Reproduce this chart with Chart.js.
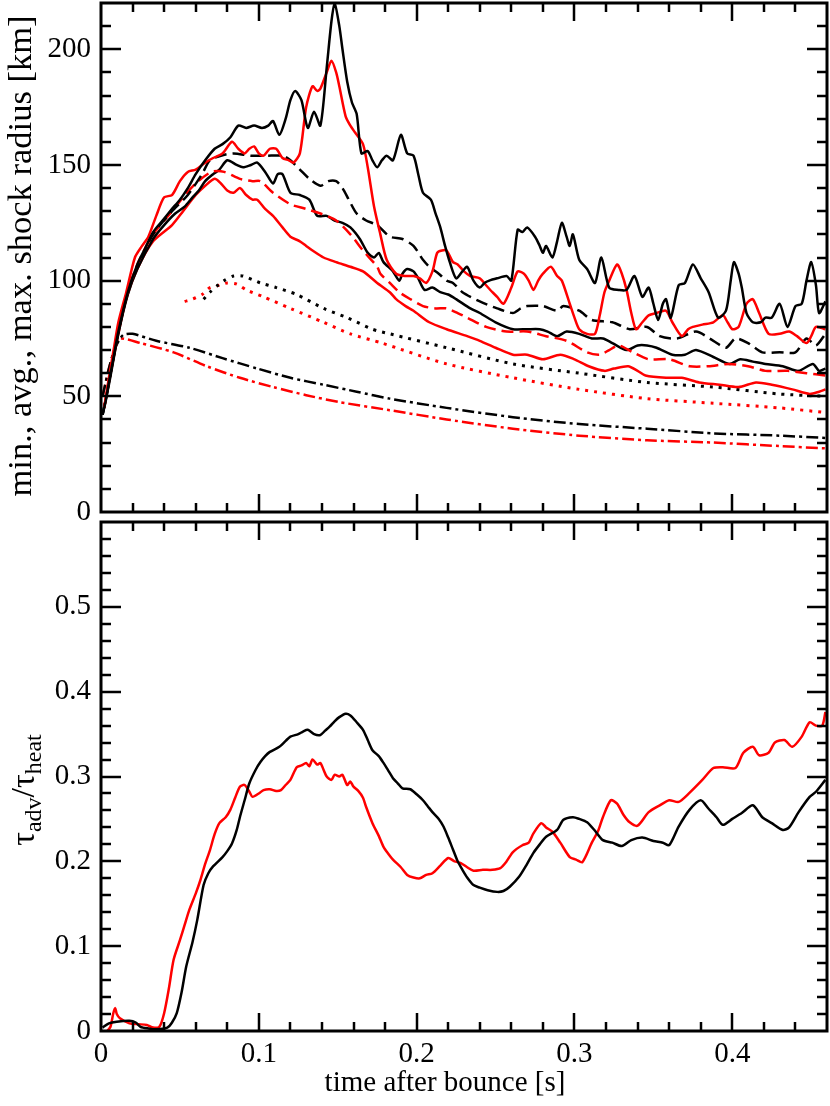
<!DOCTYPE html>
<html>
<head>
<meta charset="utf-8">
<script src="https://cdn.jsdelivr.net/npm/chart.js@4.4.1/dist/chart.umd.min.js"></script>
<style>
  html, body { margin: 0; padding: 0; background: #fff; }
  #wrap { position: relative; width: 830px; height: 1106px; }
  canvas { position: absolute; left: 0; top: 0; }
</style>
</head>
<body>
<div id="wrap">
  <canvas id="shock" width="830" height="560"></canvas>
  <canvas id="ratio" width="830" height="1106"></canvas>
</div>
<script>
// ---- axis ticks / labels ----
const timeTicks = [0, 0.1, 0.2, 0.3, 0.4];
const timeTickLabels = ['0', '0.1', '0.2', '0.3', '0.4'];
const radiusTicks = [0, 50, 100, 150, 200];
const radiusTickLabels = ['0', '50', '100', '150', '200'];
const ratioTicks = [0, 0.1, 0.2, 0.3, 0.4, 0.5];
const ratioTickLabels = ['0', '0.1', '0.2', '0.3', '0.4', '0.5'];

// ---- shock radii [t (s), r (km)] ----
const maxBlack = [[0.001,42],[0.003,48],[0.005,56],[0.008,67],[0.011,78],[0.017,95],[0.023,107],[0.028,114],[0.033,121],[0.039,126],[0.045,131],[0.050,135],[0.055,140],[0.060,146],[0.066,152],[0.072,157],[0.077,159],[0.082,162],[0.087,167],[0.092,166],[0.097,167],[0.102,166],[0.106,167],[0.109,169],[0.113,163],[0.117,170],[0.120,178],[0.123,182],[0.127,178],[0.131,166],[0.135,173],[0.139,167],[0.143,192],[0.146,212],[0.148,220],[0.151,210],[0.153,200],[0.156,186],[0.159,177],[0.162,172],[0.165,155],[0.169,156],[0.172,152],[0.175,149],[0.178,152],[0.181,154],[0.185,152],[0.190,163],[0.194,155],[0.198,154],[0.201,146],[0.204,138],[0.209,135],[0.212,129],[0.215,123],[0.218,115],[0.221,108],[0.225,101],[0.229,104],[0.232,106],[0.236,100],[0.240,97],[0.243,99],[0.246,100],[0.251,101],[0.257,102],[0.260,100],[0.264,122],[0.267,121],[0.270,123],[0.275,119],[0.278,115],[0.280,112],[0.282,115],[0.286,110],[0.289,117],[0.292,125],[0.295,119],[0.297,115],[0.299,120],[0.303,109],[0.308,105],[0.313,99],[0.317,110],[0.322,97],[0.328,96],[0.333,96],[0.338,102],[0.343,93],[0.347,97],[0.350,90],[0.353,83],[0.356,90],[0.358,92],[0.361,84],[0.366,98],[0.370,99],[0.375,107],[0.380,101],[0.385,95],[0.391,84],[0.396,87],[0.399,100],[0.401,108],[0.404,103],[0.406,97],[0.409,86],[0.413,82],[0.418,82],[0.421,84],[0.425,84],[0.430,90],[0.435,80],[0.440,89],[0.444,90],[0.447,100],[0.450,108],[0.453,98],[0.455,86],[0.459,91]];
const maxRed = [[0.002,45],[0.005,58],[0.008,70],[0.011,82],[0.016,95],[0.0215,110],[0.026,115],[0.030,119],[0.035,128],[0.040,136],[0.045,137],[0.050,143],[0.055,147],[0.060,148],[0.066,151],[0.071,153],[0.077,155],[0.083,160],[0.087,157],[0.091,155],[0.094,157],[0.097,158],[0.100,155],[0.103,154],[0.107,157],[0.111,157],[0.115,153],[0.119,152],[0.122,151],[0.126,155],[0.130,175],[0.134,184],[0.137,182],[0.139,183],[0.143,190],[0.146,195],[0.149,190],[0.151,184],[0.155,171],[0.158,167],[0.161,164],[0.166,159],[0.169,149],[0.173,132],[0.177,120],[0.181,109],[0.187,103],[0.193,102],[0.198,102],[0.202,101],[0.206,99],[0.210,104],[0.213,112],[0.216,113],[0.219,113],[0.223,108],[0.226,107],[0.230,104],[0.234,102],[0.240,101],[0.244,98],[0.248,95],[0.251,93],[0.255,90],[0.260,97],[0.264,104],[0.268,103],[0.271,100],[0.274,96],[0.277,100],[0.280,103],[0.285,106],[0.289,102],[0.292,100],[0.297,90],[0.300,84],[0.303,79],[0.308,77],[0.313,77],[0.316,85],[0.319,95],[0.322,100],[0.327,107],[0.330,103],[0.333,96],[0.336,86],[0.339,79],[0.343,82],[0.347,85],[0.352,86],[0.358,87],[0.362,82],[0.368,76],[0.372,79],[0.375,80],[0.381,81],[0.388,82],[0.394,85],[0.397,82],[0.400,79],[0.404,80],[0.409,90],[0.413,92],[0.417,86],[0.423,77],[0.430,77],[0.436,78],[0.441,76],[0.447,73],[0.450,76],[0.453,80],[0.459,79]];
const avgBlack = [[0.001,42],[0.005,56],[0.011,78],[0.017,95],[0.023,106],[0.033,120],[0.045,130],[0.055,137],[0.064,146],[0.069,152],[0.076,154],[0.084,155],[0.095,154],[0.105,154],[0.115,154],[0.120,152],[0.126,148],[0.132,144],[0.139,141],[0.144,143],[0.149,143],[0.153,140],[0.157,135],[0.162,129],[0.168,126],[0.175,124],[0.183,119],[0.191,118],[0.198,115],[0.204,109],[0.208,106],[0.214,103],[0.219,100],[0.223,99],[0.229,95],[0.240,91],[0.251,88],[0.261,86],[0.266,88],[0.270,89],[0.280,89],[0.289,87],[0.293,89],[0.303,87],[0.311,83],[0.324,82],[0.335,79],[0.346,80],[0.354,76],[0.365,75],[0.377,78],[0.388,74],[0.396,71],[0.402,75],[0.410,73],[0.419,69],[0.430,69],[0.440,69],[0.447,75],[0.453,72],[0.459,77]];
const avgRed = [[0.002,45],[0.005,57],[0.011,79],[0.016,93],[0.023,107],[0.033,120],[0.045,130],[0.052,136],[0.060,142],[0.070,147],[0.078,147],[0.088,144],[0.096,143],[0.101,143],[0.109,138],[0.120,133],[0.130,131],[0.139,129],[0.149,126],[0.158,120],[0.166,113],[0.175,106],[0.177,103],[0.183,99],[0.189,95],[0.196,92],[0.204,89],[0.212,88],[0.219,88],[0.226,86],[0.232,84],[0.244,80],[0.257,78],[0.270,78],[0.282,76],[0.295,74],[0.308,69],[0.316,68],[0.322,70],[0.328,72],[0.337,69],[0.347,66],[0.360,66],[0.373,63],[0.385,63],[0.398,64],[0.410,63],[0.421,61],[0.435,61],[0.447,60],[0.459,59]];
const minBlack = [[0.001,42],[0.005,55],[0.011,77],[0.017,94],[0.023,105],[0.033,118],[0.040,124],[0.047,129],[0.053,132],[0.058,136],[0.062,139],[0.066,143],[0.071,146],[0.075,148],[0.080,152],[0.086,150],[0.090,149],[0.095,150],[0.099,151],[0.104,147],[0.109,142],[0.112,146],[0.115,146],[0.120,138],[0.126,137],[0.132,135],[0.137,128],[0.143,128],[0.148,126],[0.153,125],[0.158,123],[0.164,118],[0.169,112],[0.173,110],[0.176,112],[0.179,108],[0.185,104],[0.189,100],[0.191,103],[0.194,105],[0.198,104],[0.201,101],[0.205,96],[0.210,97],[0.215,95],[0.220,94],[0.225,92],[0.234,88],[0.240,86],[0.250,82],[0.261,79],[0.270,79],[0.278,79],[0.283,78],[0.289,76],[0.295,78],[0.303,77],[0.311,75],[0.318,75],[0.324,73],[0.333,70],[0.340,72],[0.346,72],[0.352,71],[0.362,68],[0.370,68],[0.377,70],[0.388,67],[0.398,64],[0.405,66],[0.413,65],[0.421,64],[0.432,63],[0.442,61],[0.451,64],[0.455,61],[0.459,62]];
const minRed = [[0.002,45],[0.005,56],[0.011,77],[0.016,92],[0.023,105],[0.033,117],[0.045,124],[0.052,130],[0.060,137],[0.066,141],[0.072,144],[0.076,142],[0.080,139],[0.084,138],[0.088,140],[0.092,137],[0.096,135],[0.099,135],[0.104,131],[0.109,128],[0.115,123],[0.120,119],[0.126,117],[0.130,115],[0.134,113],[0.141,110],[0.149,108],[0.158,106],[0.166,104],[0.175,99],[0.177,98],[0.183,95],[0.187,92],[0.193,89],[0.198,87],[0.208,82],[0.219,79],[0.232,76],[0.240,74],[0.250,71],[0.261,68],[0.270,68],[0.280,66],[0.291,68],[0.300,66],[0.309,63],[0.319,61],[0.325,62],[0.334,63],[0.340,61],[0.345,59],[0.358,58],[0.368,58],[0.379,56],[0.392,55],[0.404,54],[0.415,56],[0.425,55],[0.438,53],[0.449,51],[0.455,52],[0.459,53]];
const dotBlack = [[0.065,92],[0.069,95],[0.074,98],[0.078,100],[0.084,102],[0.090,102],[0.101,99],[0.111,97],[0.124,94],[0.141,88],[0.156,84],[0.172,79],[0.183,77],[0.219,71],[0.261,64],[0.303,60],[0.346,56],[0.388,54],[0.430,51],[0.459,50]];
const dotRed = [[0.053,91],[0.058,92],[0.064,94],[0.069,97],[0.075,98],[0.080,99],[0.086,98.5],[0.092,96],[0.103,93],[0.120,88],[0.141,82],[0.158,77],[0.178,73],[0.219,64],[0.261,58],[0.303,53],[0.346,49],[0.388,47],[0.430,45],[0.459,43]];
const dashDotBlack = [[0.001,50],[0.005,62],[0.009,71],[0.014,76.5],[0.020,77],[0.035,74],[0.056,71],[0.077,66.5],[0.099,62],[0.120,58],[0.141,55],[0.162,52],[0.183,49],[0.219,45],[0.261,41],[0.303,38],[0.346,36],[0.388,34],[0.430,33],[0.459,32]];
const dashDotRed = [[0.001,50],[0.005,62],[0.009,71],[0.012,75],[0.025,73],[0.046,69],[0.067,63],[0.088,58],[0.109,54],[0.130,50.5],[0.151,47.5],[0.183,44],[0.219,40],[0.261,36],[0.303,33],[0.346,31],[0.388,30],[0.430,28.5],[0.459,27.5]];

// ---- tau_adv / tau_heat ----
const ratioBlack = [[0.001,0.004],[0.005,0.009],[0.010,0.011],[0.018,0.012],[0.022,0.010],[0.025,0.005],[0.030,0.003],[0.035,0.002],[0.042,0.004],[0.045,0.010],[0.048,0.021],[0.051,0.045],[0.054,0.076],[0.058,0.105],[0.061,0.131],[0.065,0.172],[0.068,0.186],[0.071,0.194],[0.077,0.205],[0.080,0.212],[0.083,0.221],[0.086,0.237],[0.088,0.252],[0.091,0.272],[0.094,0.292],[0.098,0.308],[0.101,0.317],[0.104,0.324],[0.107,0.329],[0.113,0.335],[0.117,0.342],[0.120,0.347],[0.125,0.350],[0.128,0.353],[0.131,0.355],[0.135,0.350],[0.139,0.349],[0.142,0.354],[0.145,0.359],[0.148,0.365],[0.151,0.370],[0.155,0.374],[0.158,0.372],[0.162,0.364],[0.166,0.355],[0.169,0.343],[0.172,0.331],[0.176,0.324],[0.179,0.316],[0.182,0.307],[0.185,0.298],[0.188,0.292],[0.191,0.286],[0.196,0.285],[0.200,0.279],[0.204,0.272],[0.207,0.265],[0.210,0.258],[0.214,0.250],[0.217,0.241],[0.220,0.228],[0.223,0.214],[0.226,0.200],[0.229,0.190],[0.232,0.181],[0.236,0.172],[0.240,0.169],[0.245,0.166],[0.251,0.164],[0.255,0.165],[0.259,0.170],[0.265,0.182],[0.270,0.197],[0.274,0.210],[0.278,0.220],[0.282,0.229],[0.289,0.237],[0.293,0.249],[0.299,0.252],[0.303,0.250],[0.308,0.246],[0.313,0.236],[0.318,0.225],[0.324,0.222],[0.330,0.218],[0.336,0.225],[0.343,0.228],[0.350,0.224],[0.356,0.222],[0.360,0.219],[0.366,0.241],[0.373,0.261],[0.380,0.272],[0.385,0.262],[0.390,0.252],[0.394,0.243],[0.400,0.250],[0.406,0.257],[0.413,0.266],[0.419,0.252],[0.425,0.245],[0.432,0.237],[0.436,0.240],[0.442,0.258],[0.449,0.276],[0.453,0.282],[0.459,0.296]];
const ratioRed = [[0.004,0.000],[0.006,0.005],[0.0078,0.021],[0.009,0.027],[0.010,0.020],[0.012,0.015],[0.018,0.009],[0.024,0.008],[0.029,0.007],[0.033,0.004],[0.037,0.005],[0.040,0.021],[0.043,0.050],[0.046,0.084],[0.050,0.107],[0.053,0.125],[0.056,0.143],[0.060,0.162],[0.063,0.178],[0.066,0.197],[0.069,0.213],[0.072,0.232],[0.075,0.245],[0.079,0.252],[0.082,0.261],[0.085,0.275],[0.088,0.288],[0.091,0.290],[0.094,0.282],[0.096,0.276],[0.100,0.280],[0.103,0.284],[0.107,0.285],[0.111,0.283],[0.114,0.284],[0.117,0.290],[0.120,0.296],[0.124,0.311],[0.127,0.313],[0.130,0.316],[0.132,0.312],[0.134,0.320],[0.137,0.314],[0.139,0.316],[0.141,0.308],[0.143,0.300],[0.146,0.296],[0.148,0.302],[0.151,0.300],[0.153,0.302],[0.156,0.290],[0.158,0.294],[0.160,0.288],[0.163,0.283],[0.166,0.275],[0.168,0.264],[0.172,0.245],[0.176,0.230],[0.179,0.217],[0.182,0.209],[0.185,0.202],[0.190,0.193],[0.194,0.184],[0.198,0.181],[0.202,0.180],[0.206,0.184],[0.210,0.186],[0.215,0.195],[0.220,0.204],[0.224,0.200],[0.228,0.198],[0.232,0.193],[0.236,0.189],[0.242,0.190],[0.248,0.190],[0.253,0.192],[0.257,0.200],[0.261,0.211],[0.267,0.219],[0.271,0.222],[0.274,0.233],[0.279,0.245],[0.282,0.240],[0.286,0.235],[0.291,0.222],[0.297,0.205],[0.301,0.202],[0.305,0.199],[0.311,0.222],[0.315,0.236],[0.318,0.252],[0.323,0.272],[0.327,0.268],[0.331,0.255],[0.335,0.246],[0.340,0.242],[0.347,0.258],[0.354,0.266],[0.360,0.272],[0.366,0.270],[0.373,0.281],[0.381,0.296],[0.388,0.310],[0.394,0.311],[0.402,0.310],[0.407,0.328],[0.413,0.335],[0.417,0.325],[0.423,0.328],[0.427,0.340],[0.433,0.343],[0.438,0.335],[0.444,0.347],[0.449,0.364],[0.453,0.360],[0.457,0.360],[0.459,0.376]];

const FONT = '"Liberation Serif", "DejaVu Serif", serif';
const RED = '#ff0000';
const BLACK = '#000000';
const SOLID = [];
const DASHED = [12, 6];
const DOTTED = [3, 6];
const DASHDOT = [12, 4, 3, 4];

// axis titles, kept out of the chart options so Chart.js doesn't proxy them
const shockTitle = [{ text: 'min., avg., max. shock radius [km]', size: 34.5, dy: 0 }];
const ratioTitle = [
  { text: 'τ', size: 34, dy: 0 },
  { text: 'adv', size: 24, dy: 7 },
  { text: '/τ', size: 34, dy: 0 },
  { text: 'heat', size: 24, dy: 7 }
];

function line(points, color, dash, width) {
  return {
    data: points.map(p => ({ x: p[0], y: p[1] })),
    borderColor: color,
    borderWidth: width || 2.5,
    borderDash: dash,
    pointRadius: 0,
    tension: 0.25,
    fill: false
  };
}

// inward ticks on all four sides plus the box
const framePlugin = {
  id: 'frame',
  afterDatasetsDraw(chart, args, opts) {
    const { ctx, chartArea: a, scales } = chart;
    ctx.save();
    ctx.strokeStyle = '#000';
    ctx.lineWidth = 2.5;
    ctx.setLineDash([]);
    ctx.beginPath();
    const nx = Math.round(scales.x.max / opts.xMinor);
    const xEvery = Math.round(opts.xMajor / opts.xMinor);
    for (let i = 1; i <= nx; i++) {
      const px = Math.round(scales.x.getPixelForValue(i * opts.xMinor));
      if (px >= a.right - 1) continue;
      const len = i % xEvery === 0 ? 18 : 9;
      ctx.moveTo(px, a.bottom); ctx.lineTo(px, a.bottom - len);
      ctx.moveTo(px, a.top); ctx.lineTo(px, a.top + len);
    }
    const ny = Math.round(scales.y.max / opts.yMinor);
    const yEvery = Math.round(opts.yMajor / opts.yMinor);
    for (let i = 1; i <= ny; i++) {
      const py = Math.round(scales.y.getPixelForValue(i * opts.yMinor));
      if (py <= a.top + 1) continue;
      const len = i % yEvery === 0 ? 20 : 10;
      ctx.moveTo(a.left, py); ctx.lineTo(a.left + len, py);
      ctx.moveTo(a.right, py); ctx.lineTo(a.right - len, py);
    }
    ctx.stroke();
    ctx.lineWidth = 3;
    ctx.strokeRect(a.left, a.top, a.right - a.left, a.bottom - a.top);
    ctx.restore();
  }
};

function drawRotated(ctx, parts, x, cy) {
  let total = 0;
  parts.forEach(p => {
    ctx.font = p.size + 'px ' + FONT;
    total += ctx.measureText(p.text).width;
  });
  ctx.save();
  ctx.fillStyle = '#000';
  ctx.translate(x, cy);
  ctx.rotate(-Math.PI / 2);
  ctx.textAlign = 'left';
  ctx.textBaseline = 'alphabetic';
  let u = -total / 2;
  parts.forEach(p => {
    ctx.font = p.size + 'px ' + FONT;
    ctx.fillText(p.text, u, p.dy);
    u += ctx.measureText(p.text).width;
  });
  ctx.restore();
}

const shockTitlePlugin = {
  id: 'shockTitle',
  afterDraw(chart) { drawRotated(chart.ctx, shockTitle, 31, 256); }
};

const ratioTitlePlugin = {
  id: 'ratioTitle',
  afterDraw(chart) {
    const ctx = chart.ctx;
    ctx.save();
    ctx.fillStyle = '#000';
    ctx.font = '29px ' + FONT;
    ctx.textAlign = 'center';
    ctx.textBaseline = 'alphabetic';
    ctx.fillText('time after bounce [s]', 445, 1091);
    ctx.restore();
    drawRotated(ctx, ratioTitle, 34, 790);
  }
};

function fixY(width) {
  return s => { s.width = width; s.paddingTop = 0; s.paddingBottom = 0; };
}

const tickFont = { family: FONT, size: 29 };

new Chart(document.getElementById('shock'), {
  type: 'line',
  data: {
    datasets: [
      line(maxBlack, BLACK, SOLID), line(maxRed, RED, SOLID),
      line(avgBlack, BLACK, DASHED), line(avgRed, RED, DASHED),
      line(minBlack, BLACK, SOLID), line(minRed, RED, SOLID),
      line(dotBlack, BLACK, DOTTED, 3), line(dotRed, RED, DOTTED, 3),
      line(dashDotBlack, BLACK, DASHDOT), line(dashDotRed, RED, DASHDOT)
    ]
  },
  options: {
    responsive: false,
    animation: false,
    layout: { padding: { left: 0, right: 3, top: 3, bottom: 48 } },
    plugins: {
      legend: { display: false },
      tooltip: { enabled: false },
      frame: { xMinor: 0.02, xMajor: 0.1, yMinor: 10, yMajor: 50 }
    },
    scales: {
      x: { type: 'linear', min: 0, max: 0.46, display: false },
      y: {
        type: 'linear', min: 0, max: 220,
        afterBuildTicks: s => { s.ticks = radiusTicks.map(v => ({ value: v })); },
        afterFit: fixY(101),
        grid: { display: false, drawTicks: false },
        border: { display: false },
        ticks: { font: tickFont, color: '#000', padding: 10, callback: (v, i) => radiusTickLabels[i] }
      }
    }
  },
  plugins: [framePlugin, shockTitlePlugin]
});

new Chart(document.getElementById('ratio'), {
  type: 'line',
  data: {
    datasets: [line(ratioBlack, BLACK, SOLID), line(ratioRed, RED, SOLID)]
  },
  options: {
    responsive: false,
    animation: false,
    layout: { padding: { left: 0, right: 3, top: 522, bottom: 0 } },
    plugins: {
      legend: { display: false },
      tooltip: { enabled: false },
      frame: { xMinor: 0.02, xMajor: 0.1, yMinor: 0.02, yMajor: 0.1 }
    },
    scales: {
      x: {
        type: 'linear', min: 0, max: 0.46,
        afterBuildTicks: s => { s.ticks = timeTicks.map(v => ({ value: v })); },
        afterFit: s => { s.height = 75; s.paddingLeft = 0; s.paddingRight = 0; },
        grid: { display: false, drawTicks: false },
        border: { display: false },
        ticks: { font: tickFont, color: '#000', padding: 6, autoSkip: false, maxRotation: 0, callback: (v, i) => timeTickLabels[i] }
      },
      y: {
        type: 'linear', min: 0, max: 0.6,
        afterBuildTicks: s => { s.ticks = ratioTicks.map(v => ({ value: v })); },
        afterFit: fixY(101),
        grid: { display: false, drawTicks: false },
        border: { display: false },
        ticks: { font: tickFont, color: '#000', padding: 10, callback: (v, i) => ratioTickLabels[i] }
      }
    }
  },
  plugins: [framePlugin, ratioTitlePlugin]
});
</script>
</body>
</html>
